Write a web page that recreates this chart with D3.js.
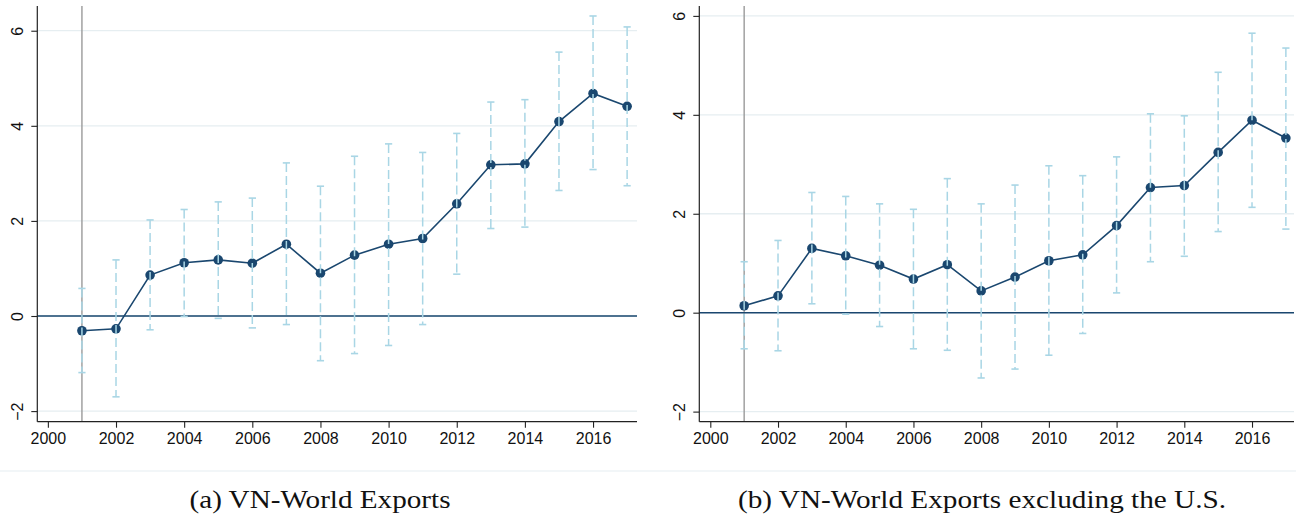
<!DOCTYPE html>
<html>
<head>
<meta charset="utf-8">
<script src="https://cdn.jsdelivr.net/npm/d3@7"></script>
<style>
  html, body { margin: 0; padding: 0; background: #fff; }
  svg { display: block; }
</style>
</head>
<body>
<svg id="chart" width="1296" height="516"></svg>
<script>
// ---------------- data ----------------
const years = [2001, 2002, 2003, 2004, 2005, 2006, 2007, 2008, 2009, 2010, 2011, 2012, 2013, 2014, 2015, 2016, 2017];

const coefA = [-0.31, -0.27, 0.86, 1.12, 1.18, 1.11, 1.51, 0.90, 1.28, 1.51, 1.63, 2.36, 3.18, 3.20, 4.09, 4.68, 4.41];
const loA   = [-1.19, -1.70, -0.29, -0.01, -0.05, -0.25, -0.18, -0.94, -0.79, -0.62, -0.18, 0.88, 1.84, 1.87, 2.64, 3.08, 2.74];
const hiA   = [0.58, 1.18, 2.02, 2.24, 2.40, 2.48, 3.22, 2.73, 3.36, 3.62, 3.44, 3.84, 4.50, 4.55, 5.55, 6.31, 6.08];

const coefB = [0.14, 0.34, 1.30, 1.15, 0.96, 0.68, 0.97, 0.44, 0.72, 1.05, 1.17, 1.76, 2.53, 2.57, 3.24, 3.89, 3.53];
const loB   = [-0.73, -0.77, 0.18, -0.03, -0.28, -0.73, -0.76, -1.32, -1.14, -0.86, -0.42, 0.40, 1.03, 1.14, 1.64, 2.13, 1.69];
const hiB   = [1.03, 1.46, 2.43, 2.35, 2.20, 2.09, 2.71, 2.20, 2.58, 2.97, 2.77, 3.15, 4.02, 3.98, 4.86, 5.65, 5.35];

const xTicks = [2000, 2002, 2004, 2006, 2008, 2010, 2012, 2014, 2016];
const yTicks = [-2, 0, 2, 4, 6];
const refYear = 2001;
const captions = ["(a) VN-World Exports", "(b) VN-World Exports excluding the U.S."];

// ---------------- style ----------------
const NAVY = "#1a476f";
const CI = "#a9d6e5";
const GRID = "#e6eef1";
const svg = d3.select("#chart");

const panels = [
  { coef: coefA, lo: loA, hi: hiA, left: 37.3, right: 637, xDom: [1999.69, 2017.29], yDom: [-2.223, 6.52],
    caption: captions[0], capX: 320, capW: 261 },
  { coef: coefB, lo: loB, hi: hiB, left: 699.3, right: 1294, xDom: [1999.675, 2017.24], yDom: [-2.204, 6.2],
    caption: captions[1], capX: 982, capW: 488 }
];
const plotTop = 6, plotBottom = 421.7;

// separator line above captions
svg.append("line").attr("x1", 0).attr("x2", 1296).attr("y1", 471).attr("y2", 471)
  .attr("stroke", GRID).attr("stroke-width", 1.2);

panels.forEach(p => {
  const x = d3.scaleLinear().domain(p.xDom).range([p.left, p.right]);
  const y = d3.scaleLinear().domain(p.yDom).range([plotBottom, plotTop]);
  const g = svg.append("g");

  // gridlines
  g.selectAll("line.grid").data(yTicks).enter().append("line")
    .attr("x1", p.left).attr("x2", p.right)
    .attr("y1", d => y(d)).attr("y2", d => y(d))
    .attr("stroke", GRID).attr("stroke-width", 1.3);

  // reference vertical line
  g.append("line").attr("x1", x(refYear)).attr("x2", x(refYear))
    .attr("y1", plotTop).attr("y2", plotBottom)
    .attr("stroke", "#9a9a9a").attr("stroke-width", 1.4);

  // zero line
  g.append("line").attr("x1", p.left).attr("x2", p.right)
    .attr("y1", y(0)).attr("y2", y(0))
    .attr("stroke", NAVY).attr("stroke-width", 1.5);

  // connecting line
  const line = d3.line().x((d, i) => x(years[i])).y(d => y(d));
  g.append("path").datum(p.coef).attr("d", line)
    .attr("fill", "none").attr("stroke", NAVY).attr("stroke-width", 1.6);

  // markers
  g.selectAll("circle").data(p.coef).enter().append("circle")
    .attr("cx", (d, i) => x(years[i])).attr("cy", d => y(d)).attr("r", 4.8)
    .attr("fill", NAVY);

  // error bars (drawn on top)
  const eb = g.append("g").attr("stroke", CI).attr("stroke-width", 1.5).attr("fill", "none");
  years.forEach((yr, i) => {
    const cx = x(yr);
    eb.append("line").attr("x1", cx).attr("x2", cx)
      .attr("y1", y(p.hi[i])).attr("y2", y(p.lo[i]))
      .attr("stroke-dasharray", "9,4");
    [p.hi[i], p.lo[i]].forEach(v => {
      eb.append("line").attr("x1", cx - 3.6).attr("x2", cx + 3.6)
        .attr("y1", y(v)).attr("y2", y(v)).attr("stroke-width", 1.6);
    });
  });

  // y axis
  const yAxis = d3.axisLeft(y).tickValues(yTicks).tickSize(6).tickPadding(4).tickFormat(d3.format("d"));
  const ya = g.append("g").attr("transform", `translate(${p.left},0)`).call(yAxis);
  ya.select(".domain").attr("d", `M0,${plotTop}V${plotBottom}`).attr("stroke", "#222").attr("stroke-width", 1.2);
  ya.selectAll(".tick line").attr("stroke", "#222").attr("stroke-width", 1.1);
  ya.selectAll(".tick text")
    .attr("font-family", "Liberation Sans, Arial, sans-serif").attr("font-size", 16).attr("fill", "#111")
    .attr("transform", "rotate(-90)")
    .attr("x", 0).attr("dy", null).attr("y", -14)
    .attr("text-anchor", "middle");

  // x axis
  const xAxis = d3.axisBottom(x).tickValues(xTicks).tickSize(6).tickPadding(5).tickFormat(d3.format("d"));
  const xa = g.append("g").attr("transform", `translate(0,${plotBottom})`).call(xAxis);
  xa.select(".domain").attr("d", `M${p.left},0H${p.right}`).attr("stroke", "#222").attr("stroke-width", 1.2);
  xa.selectAll(".tick line").attr("stroke", "#222").attr("stroke-width", 1.1);
  xa.selectAll(".tick text")
    .attr("font-family", "Liberation Sans, Arial, sans-serif").attr("font-size", 16).attr("fill", "#111");

  // caption
  svg.append("text").attr("x", p.capX).attr("y", 508).attr("text-anchor", "middle")
    .attr("font-family", "Liberation Serif, Times New Roman, serif").attr("font-size", 25)
    .attr("fill", "#111")
    .attr("textLength", p.capW).attr("lengthAdjust", "spacingAndGlyphs")
    .text(p.caption);
});
</script>
</body>
</html>
